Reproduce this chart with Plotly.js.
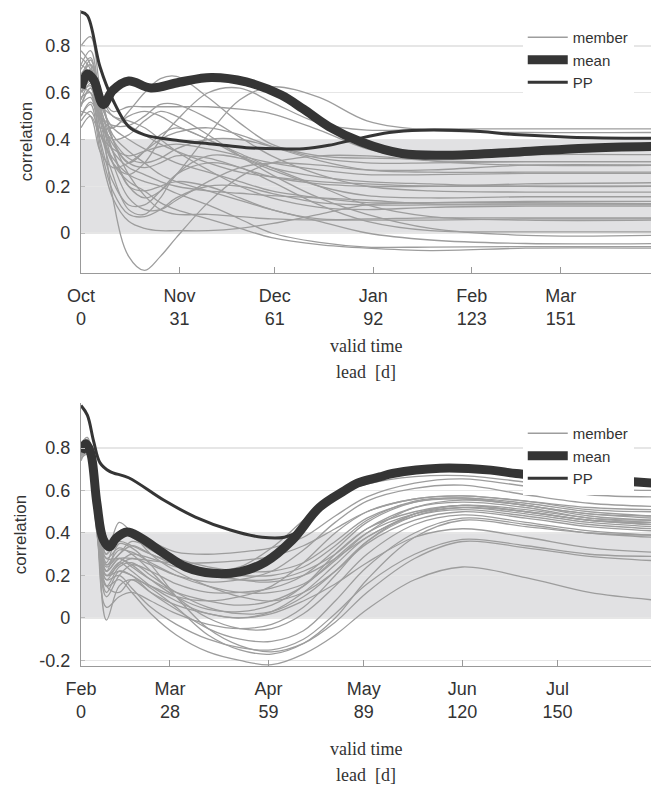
<!DOCTYPE html>
<html><head><meta charset="utf-8">
<script src="https://cdn.plot.ly/plotly-3.0.1.min.js"></script>
<style>html,body{margin:0;padding:0;background:#fff}#chart{width:651px;height:786px}</style>
</head><body><div id="chart"></div>
<script>
// ---------- top panel (Oct start) ----------
const topTickVals = [0, 31, 61, 92, 123, 151];
const topTickText = ['Oct<br>0', 'Nov<br>31', 'Dec<br>61', 'Jan<br>92', 'Feb<br>123', 'Mar<br>151'];
const topYTicks = [0, 0.2, 0.4, 0.6, 0.8];
const topYText = ['0', '0.2', '0.4', '0.6', '0.8'];
const topDays = [0,3,6,10,15,20,25,30,40,50,60,75,90,110,140,180];
const topMembers = [
  [0.72,0.78,0.55,0.15,-0.10,-0.16,-0.10,-0.02,0.13,0.24,0.30,0.33,0.33,0.31,0.305,0.305],
  [0.60,0.65,0.50,0.45,0.52,0.60,0.66,0.67,0.58,0.47,0.38,0.33,0.32,0.32,0.335,0.335],
  [0.55,0.62,0.45,0.30,0.25,0.30,0.40,0.48,0.60,0.62,0.56,0.47,0.44,0.445,0.445,0.445],
  [0.65,0.70,0.50,0.35,0.20,0.15,0.18,0.25,0.42,0.57,0.625,0.58,0.48,0.44,0.43,0.43],
  [0.60,0.68,0.60,0.52,0.54,0.54,0.54,0.54,0.54,0.53,0.51,0.44,0.36,0.31,0.29,0.29],
  [0.50,0.55,0.35,0.15,0.05,0.02,0.01,0.01,0.01,0.02,0.04,0.08,0.12,0.13,0.13,0.125],
  [0.80,0.84,0.62,0.40,0.30,0.35,0.42,0.45,0.40,0.33,0.28,0.24,0.22,0.21,0.20,0.20],
  [0.75,0.70,0.45,0.25,0.10,0.08,0.15,0.25,0.33,0.32,0.27,0.20,0.16,0.15,0.155,0.155],
  [0.68,0.72,0.55,0.35,0.20,0.18,0.20,0.22,0.20,0.15,0.10,0.06,0.06,0.065,0.065,0.065],
  [0.62,0.66,0.48,0.40,0.42,0.48,0.52,0.50,0.42,0.33,0.25,0.15,0.08,0.02,-0.01,-0.01],
  [0.58,0.60,0.40,0.22,0.12,0.12,0.18,0.25,0.30,0.28,0.22,0.12,0.05,0.01,0.005,0.005],
  [0.66,0.74,0.58,0.42,0.35,0.30,0.25,0.22,0.18,0.14,0.10,0.05,0.00,-0.03,-0.045,-0.045],
  [0.55,0.58,0.42,0.32,0.25,0.22,0.20,0.17,0.12,0.06,0.00,-0.04,-0.06,-0.06,-0.058,-0.058],
  [0.48,0.52,0.45,0.45,0.50,0.52,0.50,0.46,0.40,0.34,0.28,0.20,0.12,0.07,0.055,0.055],
  [0.70,0.75,0.60,0.50,0.48,0.45,0.40,0.35,0.27,0.20,0.15,0.11,0.10,0.11,0.115,0.115],
  [0.60,0.63,0.50,0.38,0.30,0.28,0.30,0.33,0.32,0.28,0.24,0.21,0.20,0.20,0.21,0.215],
  [0.52,0.50,0.35,0.28,0.30,0.35,0.40,0.43,0.45,0.42,0.37,0.31,0.27,0.26,0.26,0.26],
  [0.64,0.70,0.52,0.30,0.15,0.10,0.10,0.14,0.22,0.28,0.30,0.29,0.27,0.27,0.29,0.29],
  [0.57,0.64,0.55,0.45,0.40,0.36,0.33,0.30,0.26,0.22,0.18,0.15,0.13,0.13,0.135,0.135],
  [0.72,0.68,0.48,0.30,0.22,0.18,0.13,0.10,0.06,0.02,-0.02,-0.05,-0.065,-0.075,-0.065,-0.065],
  [0.50,0.56,0.50,0.46,0.46,0.50,0.55,0.55,0.49,0.41,0.33,0.25,0.20,0.18,0.175,0.175],
  [0.62,0.60,0.38,0.18,0.08,0.07,0.10,0.15,0.20,0.20,0.17,0.13,0.12,0.12,0.12,0.12],
  [0.45,0.50,0.42,0.36,0.33,0.35,0.37,0.38,0.36,0.33,0.30,0.27,0.25,0.25,0.255,0.255],
  [0.67,0.72,0.60,0.40,0.25,0.16,0.10,0.08,0.08,0.07,0.06,0.055,0.055,0.055,0.06,0.06],
  [0.54,0.62,0.53,0.40,0.32,0.30,0.32,0.36,0.40,0.40,0.37,0.32,0.30,0.30,0.305,0.305],
  [0.78,0.72,0.50,0.35,0.28,0.25,0.22,0.20,0.18,0.17,0.16,0.15,0.14,0.125,0.125,0.125],
  [0.60,0.66,0.55,0.50,0.46,0.42,0.38,0.35,0.30,0.26,0.24,0.22,0.21,0.20,0.20,0.20]
];
const topMeanDays = [0,2,4,7,10,15,22,31,41,52,63,70,78,88,101,117,138,159,180];
const topMean = [0.62,0.68,0.655,0.55,0.61,0.65,0.62,0.645,0.665,0.646,0.59,0.53,0.455,0.39,0.34,0.333,0.347,0.363,0.37];
const topPPDays = [0,2,6,10,15,20,31,42,52,63,70,78,86,97,107,122,138,154,180];
const topPP = [0.945,0.93,0.71,0.57,0.455,0.42,0.395,0.38,0.365,0.36,0.36,0.375,0.40,0.43,0.44,0.437,0.42,0.41,0.405];

// ---------- bottom panel (Feb start) ----------
const botTickVals = [0, 28, 59, 89, 120, 150];
const botTickText = ['Feb<br>0', 'Mar<br>28', 'Apr<br>59', 'May<br>89', 'Jun<br>120', 'Jul<br>150'];
const botYTicks = [-0.2, 0, 0.2, 0.4, 0.6, 0.8];
const botYText = ['-0.2', '0', '0.2', '0.4', '0.6', '0.8'];
const botDays = [0,2,5,8,12,16,22,30,40,50,60,70,80,90,105,120,140,160,180];
const botMembers = [
  [0.80,0.84,0.55,0.25,0.30,0.34,0.30,0.25,0.22,0.24,0.33,0.46,0.58,0.63,0.665,0.67,0.64,0.61,0.60],
  [0.78,0.80,0.50,0.30,0.38,0.40,0.36,0.31,0.30,0.31,0.33,0.38,0.48,0.57,0.635,0.655,0.62,0.58,0.57],
  [0.76,0.80,0.45,0.20,0.25,0.28,0.25,0.20,0.17,0.18,0.22,0.32,0.45,0.55,0.61,0.625,0.58,0.54,0.525],
  [0.82,0.85,0.52,0.15,0.12,0.18,0.15,0.10,0.08,0.10,0.15,0.26,0.40,0.50,0.56,0.575,0.55,0.51,0.50],
  [0.77,0.78,0.40,0.10,0.20,0.25,0.22,0.16,0.12,0.12,0.14,0.20,0.32,0.45,0.545,0.565,0.54,0.50,0.48],
  [0.80,0.83,0.48,0.25,0.32,0.31,0.26,0.20,0.15,0.12,0.12,0.16,0.27,0.40,0.52,0.555,0.53,0.48,0.46],
  [0.74,0.79,0.46,0.18,0.26,0.30,0.28,0.24,0.20,0.18,0.18,0.22,0.30,0.42,0.52,0.545,0.52,0.47,0.45],
  [0.79,0.81,0.42,0.05,0.10,0.12,0.08,0.02,-0.03,-0.05,-0.03,0.05,0.20,0.36,0.49,0.53,0.50,0.46,0.44],
  [0.81,0.84,0.50,0.22,0.28,0.24,0.18,0.12,0.08,0.06,0.08,0.15,0.28,0.40,0.49,0.52,0.49,0.45,0.43],
  [0.78,0.80,0.44,-0.01,0.15,0.18,0.12,0.06,0.02,0.00,0.03,0.12,0.25,0.38,0.48,0.51,0.48,0.44,0.42],
  [0.75,0.78,0.48,0.30,0.45,0.40,0.30,0.22,0.15,0.10,0.08,0.12,0.22,0.35,0.46,0.50,0.47,0.43,0.41],
  [0.77,0.82,0.50,0.28,0.33,0.30,0.22,0.10,0.00,-0.05,-0.05,0.02,0.15,0.30,0.44,0.485,0.45,0.41,0.39],
  [0.80,0.82,0.46,0.12,0.22,0.20,0.12,0.04,-0.05,-0.10,-0.11,-0.06,0.08,0.24,0.40,0.47,0.44,0.40,0.38],
  [0.76,0.79,0.43,0.20,0.26,0.22,0.15,0.08,0.02,0.00,0.02,0.08,0.16,0.26,0.38,0.42,0.38,0.33,0.31],
  [0.79,0.83,0.47,0.18,0.20,0.14,0.05,-0.03,-0.10,-0.14,-0.15,-0.10,0.02,0.16,0.30,0.37,0.34,0.30,0.29],
  [0.78,0.80,0.45,0.22,0.35,0.33,0.25,0.10,-0.05,-0.13,-0.16,-0.12,-0.02,0.12,0.28,0.36,0.33,0.29,0.27],
  [0.77,0.80,0.46,0.15,0.18,0.12,0.02,-0.08,-0.16,-0.20,-0.22,-0.17,-0.08,0.04,0.18,0.24,0.19,0.12,0.085],
  [0.80,0.84,0.50,0.26,0.40,0.38,0.32,0.26,0.22,0.20,0.20,0.24,0.34,0.46,0.55,0.565,0.53,0.49,0.47],
  [0.79,0.81,0.44,0.24,0.30,0.36,0.33,0.28,0.24,0.22,0.22,0.26,0.36,0.47,0.545,0.56,0.53,0.49,0.48],
  [0.75,0.77,0.40,0.15,0.24,0.26,0.20,0.12,0.05,0.02,0.03,0.10,0.22,0.36,0.48,0.52,0.50,0.46,0.44],
  [0.81,0.83,0.52,0.28,0.28,0.25,0.18,0.10,0.04,0.03,0.06,0.15,0.30,0.42,0.50,0.53,0.50,0.46,0.45],
  [0.78,0.80,0.45,0.20,0.22,0.20,0.14,0.05,-0.08,-0.15,-0.17,-0.12,0.00,0.18,0.38,0.46,0.43,0.40,0.39],
  [0.77,0.80,0.48,0.22,0.28,0.28,0.27,0.26,0.26,0.27,0.29,0.34,0.42,0.50,0.56,0.575,0.55,0.52,0.51],
  [0.80,0.82,0.50,0.32,0.36,0.34,0.30,0.26,0.22,0.18,0.17,0.20,0.28,0.38,0.49,0.53,0.51,0.47,0.46]
];
const botMeanDays = [0,1.5,3,5,7,9,11,14.5,18.5,26,33,41.5,50,58,66.5,75,83,87,94,98,113,129,137,155,175,180];
const botMean = [0.78,0.82,0.78,0.54,0.37,0.335,0.375,0.405,0.38,0.305,0.24,0.21,0.217,0.263,0.367,0.52,0.60,0.635,0.664,0.68,0.705,0.696,0.68,0.66,0.64,0.635];
const botPPDays = [0,2,4,6,9,15,26,36,47,57,64,69,75,83,87,94,98,113,129,137,155,175,180];
const botPP = [1.0,0.955,0.83,0.73,0.69,0.66,0.555,0.475,0.414,0.38,0.38,0.414,0.52,0.60,0.635,0.664,0.68,0.705,0.696,0.68,0.66,0.64,0.635];

const bandRange = [0, 0.4];

// ---------- styles ----------
const memberColor = '#9d9d9d';
const darkColor = '#353535';
const sans = 'Liberation Sans, Arial, sans-serif';
const serif = 'Liberation Serif, Times New Roman, serif';

const traces = [];
function addPanel(days, members, mDays, mean, pDays, pp, xa, ya, lg) {
  members.forEach((m, i) => traces.push({
    x: days, y: m, xaxis: xa, yaxis: ya, mode: 'lines', name: 'member',
    line: {color: memberColor, width: 1.3, shape: 'spline', smoothing: 1},
    legend: lg, legendgroup: lg + 'm', showlegend: i === 0, hoverinfo: 'skip'
  }));
  traces.push({x: mDays, y: mean, xaxis: xa, yaxis: ya, mode: 'lines', name: 'mean',
    line: {color: darkColor, width: 9, shape: 'spline', smoothing: 1}, legend: lg, hoverinfo: 'skip'});
  traces.push({x: pDays, y: pp, xaxis: xa, yaxis: ya, mode: 'lines', name: 'PP',
    line: {color: darkColor, width: 3, shape: 'spline', smoothing: 1}, legend: lg, hoverinfo: 'skip'});
}
addPanel(topDays, topMembers, topMeanDays, topMean, topPPDays, topPP, 'x', 'y', 'legend');
addPanel(botDays, botMembers, botMeanDays, botMean, botPPDays, botPP, 'x2', 'y2', 'legend2');

const tickFont = {family: sans, size: 18, color: '#333'};
function xAxis(vals, text, anchor) {
  return {domain: [0, 1], anchor: anchor, range: [0, 179.4], tickvals: vals, ticktext: text,
    ticks: 'inside', ticklen: 6, tickcolor: '#999', showline: true, linecolor: '#999', linewidth: 1.2,
    showgrid: false, zeroline: false, tickfont: tickFont, ticklabelstandoff: 6};
}
function yAxis(domain, range, vals, text, anchor) {
  return {domain: domain, anchor: anchor, range: range, tickvals: vals, ticktext: text,
    ticks: 'inside', ticklen: 4, tickcolor: '#bbb', showline: true, linecolor: '#999', linewidth: 1.2,
    showgrid: true, gridcolor: '#e6e6e6', gridwidth: 1.2, zeroline: false, tickfont: tickFont,
    ticklabelstandoff: 6,
    title: {text: 'correlation', font: {family: sans, size: 17, color: '#333'}, standoff: 8}};
}
const legendStyle = {xanchor: 'left', yanchor: 'top', bgcolor: '#ffffff', borderwidth: 0,
  font: {family: sans, size: 15, color: '#333'}, itemwidth: 40, tracegroupgap: 0};

const layout = {
  width: 651, height: 786, margin: {l: 81, r: 0, t: 0, b: 0},
  paper_bgcolor: '#fff', plot_bgcolor: '#fff', showlegend: true,
  xaxis: xAxis(topTickVals, topTickText, 'y'),
  yaxis: yAxis([0.6527, 0.9873], [-0.171, 0.954], topYTicks, topYText, 'x'),
  xaxis2: xAxis(botTickVals, botTickText, 'y2'),
  yaxis2: yAxis([0.1527, 0.4873], [-0.226, 1.012], botYTicks, botYText, 'x2'),
  shapes: [
    {type: 'rect', xref: 'x', yref: 'y', x0: 0, x1: 180, y0: bandRange[0], y1: bandRange[1],
     fillcolor: '#e1e1e3', line: {width: 0}, layer: 'below'},
    {type: 'rect', xref: 'x2', yref: 'y2', x0: 0, x1: 180, y0: bandRange[0], y1: bandRange[1],
     fillcolor: '#e1e1e3', line: {width: 0}, layer: 'below'}
  ],
  legend: Object.assign({x: 0.775, y: 1 - 21/786}, legendStyle),
  legend2: Object.assign({x: 0.775, y: 1 - 417/786}, legendStyle),
  annotations: [
    {text: 'valid time', xref: 'paper', yref: 'paper', x: 0.5, y: 1 - 346/786, showarrow: false,
     xanchor: 'center', yanchor: 'middle', font: {family: serif, size: 18, color: '#333'}},
    {text: 'lead  [d]', xref: 'paper', yref: 'paper', x: 0.5, y: 1 - 372/786, showarrow: false,
     xanchor: 'center', yanchor: 'middle', font: {family: serif, size: 18, color: '#333'}},
    {text: 'valid time', xref: 'paper', yref: 'paper', x: 0.5, y: 1 - 749/786, showarrow: false,
     xanchor: 'center', yanchor: 'middle', font: {family: serif, size: 18, color: '#333'}},
    {text: 'lead  [d]', xref: 'paper', yref: 'paper', x: 0.5, y: 1 - 775/786, showarrow: false,
     xanchor: 'center', yanchor: 'middle', font: {family: serif, size: 18, color: '#333'}}
  ]
};

Plotly.newPlot('chart', traces, layout, {staticPlot: true, displayModeBar: false});
</script>
</body></html>
